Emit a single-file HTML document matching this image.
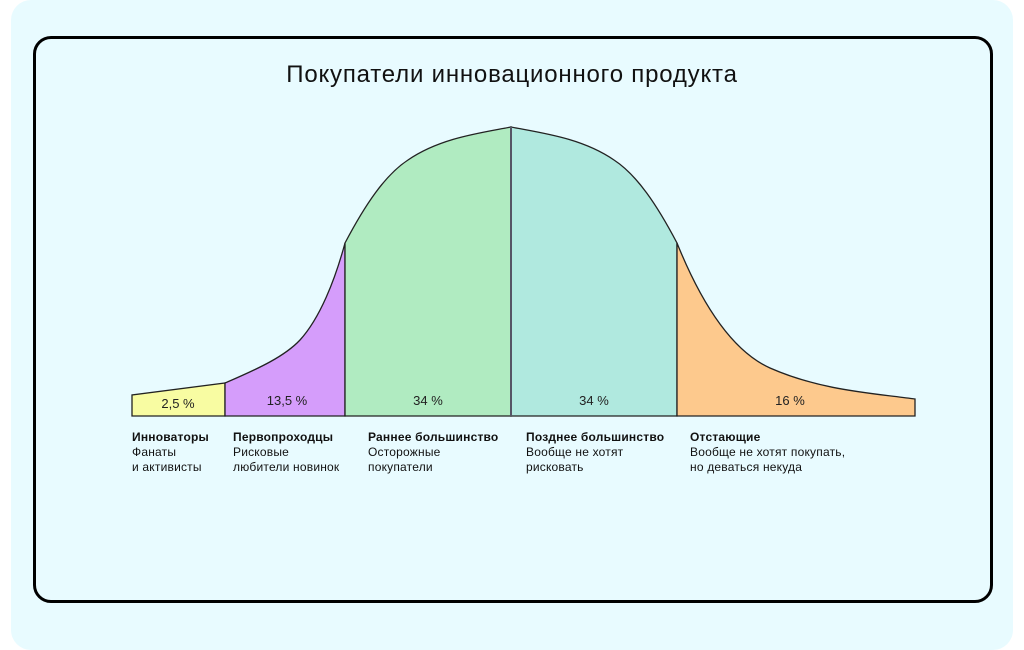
<!DOCTYPE html>
<html><head><meta charset="utf-8"><style>
html,body{margin:0;padding:0;background:#fff;width:1024px;height:630px;overflow:hidden}
.bg{position:absolute;left:11px;top:0;width:1002px;height:650px;background:#e8fbff;border-radius:20px}
.card{position:absolute;left:33px;top:36px;width:954px;height:561px;border:3px solid #000;border-radius:18px}
svg{position:absolute;left:0;top:0}
text{font-family:"Liberation Sans",sans-serif}
</style></head><body>
<div class="bg"></div><div class="card"></div>
<svg width="1024" height="630" viewBox="0 0 1024 630">
<text x="512" y="82" font-size="24" letter-spacing="0.8" text-anchor="middle" fill="#111">Покупатели инновационного продукта</text>
<g stroke="#222" stroke-width="1.3">
<path d="M132,416 L132,395 L225,383 L225,416 Z" fill="#f8fca2"/>
<path d="M225,416 L225,383 C260,368 285,356 300,340 C320,318 335,280 345,243 L345,416 Z" fill="#d59dfb"/>
<path d="M345,416 L345,243 C365,205 385,175 408,160 C440,138 480,133 511,127 L511,416 Z" fill="#b0ebc1"/>
<path d="M511,416 L511,127 C542,133 582,138 614,160 C637,175 657,205 677,243 L677,416 Z" fill="#b0e9df"/>
<path d="M677,416 L677,243 C700,300 730,350 770,368 C820,390 870,393 915,399 L915,416 Z" fill="#fdc98d"/>
</g>
<line x1="511" y1="127" x2="511" y2="416" stroke="#556" stroke-width="2"/>
<g font-size="13" fill="#222" text-anchor="middle">
<text x="178" y="408">2,5 %</text><text x="287" y="405">13,5 %</text><text x="428" y="405">34 %</text><text x="594" y="405">34 %</text><text x="790" y="405">16 %</text>
</g>
<g font-size="12" fill="#111" letter-spacing="0.2">
<text x="132" y="441" font-weight="bold">Инноваторы</text><text x="132" y="456">Фанаты</text><text x="132" y="471">и активисты</text>
<text x="233" y="441" font-weight="bold">Первопроходцы</text><text x="233" y="456">Рисковые</text><text x="233" y="471">любители новинок</text>
<text x="368" y="441" font-weight="bold">Раннее большинство</text><text x="368" y="456">Осторожные</text><text x="368" y="471">покупатели</text>
<text x="526" y="441" font-weight="bold">Позднее большинство</text><text x="526" y="456">Вообще не хотят</text><text x="526" y="471">рисковать</text>
<text x="690" y="441" font-weight="bold">Отстающие</text><text x="690" y="456">Вообще не хотят покупать,</text><text x="690" y="471">но деваться некуда</text>
</g>
</svg>
</body></html>
